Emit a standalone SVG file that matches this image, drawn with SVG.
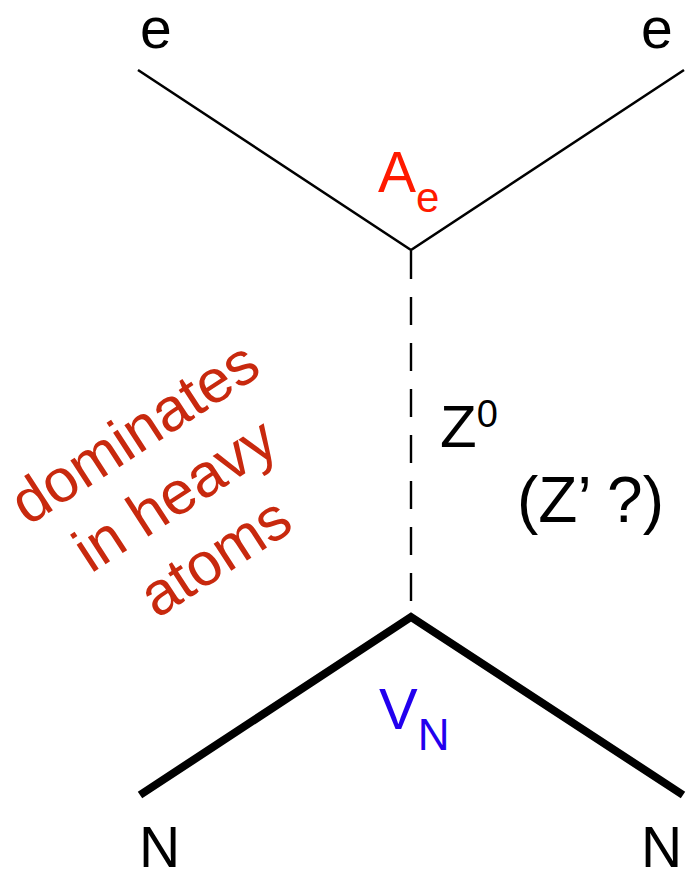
<svg xmlns="http://www.w3.org/2000/svg" width="689" height="873" viewBox="0 0 689 873">
<style>
text{font-family:"Liberation Sans",Arial,Helvetica,sans-serif;}
.lbl{font-size:57px;fill:#000;}
.thin{stroke:#000;stroke-width:2.6;fill:none;}
.thick{stroke:#000;stroke-width:8;fill:none;}
.dash{stroke:#000;stroke-width:2.4;stroke-dasharray:28,18;fill:none;}
.note{font-size:61px;fill:#c8290e;text-anchor:middle;}
</style>
<rect width="689" height="873" fill="#fff"/>
<g id="connectors">
<polyline class="thin" points="138,70 411,250 684,70"/>
<line class="dash" x1="411" y1="251" x2="411" y2="615"/>
<polyline class="thick" points="140,795 411,617 683,795" stroke-linejoin="miter"/>
</g>
<g id="e-left"><text class="lbl" x="140" y="48">e</text></g>
<g id="e-right"><text class="lbl" x="641" y="48">e</text></g>
<g id="vertex-top"><text x="378" y="192" font-size="57" fill="#ff1a00">A<tspan font-size="42" dy="20">e</tspan></text></g>
<g id="z0"><text x="440" y="447" font-size="60" fill="#000">Z<tspan font-size="38" dy="-20">0</tspan></text></g>
<g id="zprime"><text x="517" y="522" font-size="64" fill="#000">(Z’ ?)</text></g>
<g id="vertex-bottom"><text x="379" y="729" font-size="58" fill="#2200ee">V<tspan font-size="44" dy="21">N</tspan></text></g>
<g id="n-left"><text class="lbl" x="139" y="867">N</text></g>
<g id="n-right"><text class="lbl" x="641" y="867">N</text></g>
<g id="note" transform="rotate(-33 186 512)">
<text class="note" x="186" y="438">dominates</text>
<text class="note" x="186" y="512">in heavy</text>
<text class="note" x="186" y="586">atoms</text>
</g>
</svg>
